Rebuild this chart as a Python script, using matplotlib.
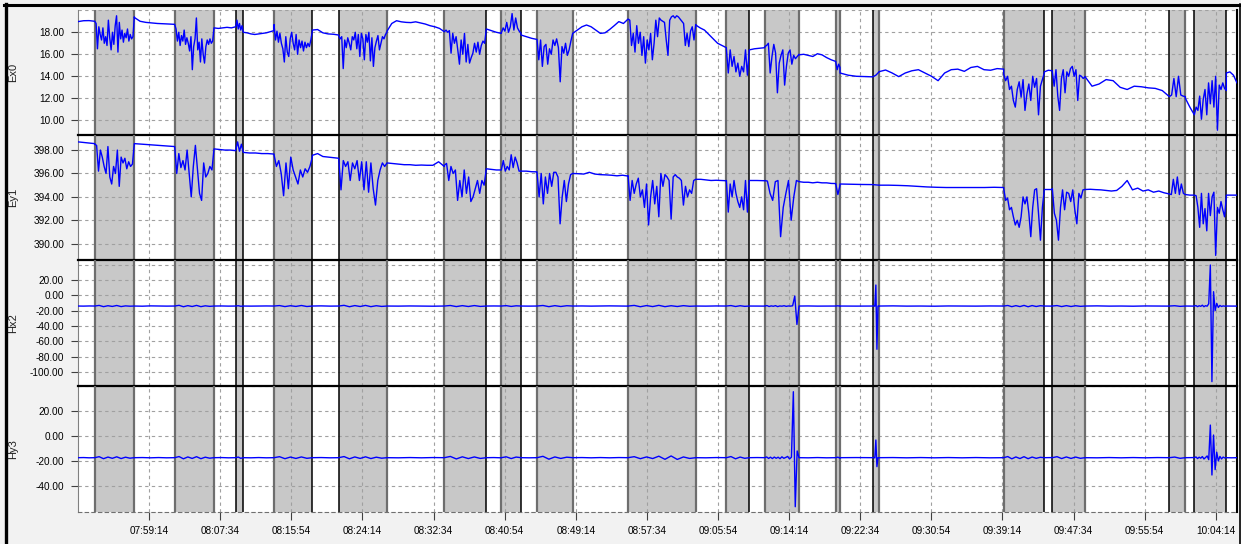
import numpy as np
import matplotlib
matplotlib.use("Agg")
import matplotlib.pyplot as plt
from matplotlib.lines import Line2D

# ── time axis (minutes after 07:00) ────────────────────────────────────────
T_START, T_END = 50.9, 186.72

BAND_START = [52.86, 62.23, 69.38, 73.87, 81.45, 93.83, 100.51, 104.69, 115.36,
              126.88, 131.38, 139.70, 144.03, 159.38, 165.08, 178.79, 181.72]
BAND_END = [57.50, 66.84, 70.27, 78.36, 87.11, 98.75, 102.82, 108.87, 123.29,
            129.57, 135.40, 140.20, 144.77, 164.14, 168.91, 180.67, 185.47]
BAND_EDGE = ["gg", "gg", "kk", "gk", "kg", "gk", "gk", "gg", "gg",
             "gk", "gg", "gg", "kg", "gk", "kg", "kg", "kk"]

TICK_LABELS = ["07:59:14", "08:07:34", "08:15:54", "08:24:14", "08:32:34",
               "08:40:54", "08:49:14", "08:57:34", "09:05:54", "09:14:14",
               "09:22:34", "09:30:54", "09:39:14", "09:47:34", "09:55:54",
               "10:04:14"]

# ── Ex0: quiet stretches between bands, and the noisy bands ────────────────
EX0_GAPS = [
    [18.97, 19.05, 19.06, 19.0],
    [19.35, 19.0, 18.9, 18.85, 18.8, 18.78, 18.75, 18.72],
    [18.4, 18.35, 18.4, 18.45, 18.4, 18.5],
    [18.0, 17.95, 17.85, 17.8, 17.85, 17.9, 17.95, 18.05, 18.15],
    [18.2, 18.25, 17.95, 17.85, 17.82, 17.75],
    [18.1, 18.8, 19.05, 18.95, 18.9, 18.88, 18.95, 18.85, 18.75, 18.6, 18.5, 18.35, 18.05],
    [18.3, 18.15, 18.0, 17.9],
    [17.75, 17.6, 17.45, 17.35],
    [17.9, 18.2, 18.5, 18.66, 18.5, 18.2, 17.9, 17.95, 18.25, 18.6, 18.97, 18.8, 19.2],
    [18.66, 18.4, 18.2, 17.8, 17.4, 17.0, 16.8, 16.6],
    [16.4, 16.5, 16.55, 16.6],
    [15.95, 16.0, 15.9, 15.8, 16.05, 15.95, 15.7, 15.5, 15.35],
    [14.3, 14.1, 14.0, 13.97, 13.95],
    [14.42, 14.57, 14.3, 13.97, 14.3, 14.5, 14.6, 14.3, 14.0, 13.6, 14.3, 14.6,
     14.65, 14.45, 14.8, 14.9, 14.6, 14.55, 14.7, 14.65],
    [14.4, 14.55, 14.5],
    [13.97, 13.1, 13.3, 13.7, 13.6, 13.0, 12.8, 13.1, 13.05, 12.95, 12.9, 12.7, 12.15],
    [12.0, 11.2, 10.5],
    [14.3, 14.4, 14.1, 13.4],
]
EX0_BANDS = [
    [19.0, 18.8, 16.5, 18.5, 17.8, 17.3, 18.4, 17.0, 17.6, 16.8, 19.1, 17.5, 16.4,
     18.0, 16.9, 18.6, 19.5, 16.2, 18.9, 17.4, 18.2, 17.1, 17.9, 17.5, 18.3, 17.2,
     17.8, 17.4, 17.6, 19.4],
    [18.7, 18.3, 17.2, 18.0, 16.8, 17.7, 17.2, 18.2, 16.9, 17.5, 17.0, 16.3, 17.6,
     14.6, 16.7, 17.4, 19.3, 16.4, 17.1, 15.3, 17.4, 16.0, 15.2, 16.7, 17.3, 16.9,
     17.4, 17.0, 17.2, 18.4],
    [18.5, 19.1, 18.3, 18.8, 18.2, 18.6, 18.0],
    [18.7, 17.3, 18.1, 17.1, 17.9, 17.0, 16.5, 15.3, 17.6, 16.2, 15.8, 17.4, 18.0,
     17.0, 16.4, 17.8, 16.0, 17.3, 16.6, 17.2, 16.3, 17.1, 16.6, 17.0, 16.7, 17.3, 18.1],
    [17.7, 17.4, 17.6, 14.7, 17.3, 16.6, 17.5, 17.0, 16.4, 17.6, 17.3, 18.0, 16.5,
     17.8, 15.8, 17.9, 17.4, 15.5, 17.8, 17.1, 18.0, 15.4, 17.5, 14.9, 16.6, 17.2,
     17.7, 16.4, 17.0, 17.6, 17.4, 17.8, 18.0],
    [18.05, 18.2, 18.0, 18.15, 16.1, 17.9, 17.0, 17.6, 16.4, 15.1, 17.3, 16.0, 17.9,
     15.3, 16.9, 15.2, 15.7, 16.1, 17.0, 16.2, 17.1, 16.0, 16.8, 17.2, 17.0, 18.3],
    [17.95, 18.4, 18.1, 18.9, 18.0, 18.5, 19.7, 18.2, 19.3, 18.4, 18.1, 17.9],
    [17.35, 15.5, 17.3, 14.9, 16.7, 16.9, 15.1, 16.5, 16.0, 17.3, 16.8, 17.4, 16.6,
     13.5, 16.7, 16.1, 17.0, 15.9, 16.4, 17.2, 17.9],
    [19.2, 19.1, 16.8, 17.9, 16.2, 18.6, 17.0, 18.0, 15.9, 17.6, 15.2, 17.3, 16.4,
     17.9, 15.5, 17.0, 19.1, 17.6, 19.3, 19.1, 19.0, 18.9, 17.3, 15.9, 19.1, 19.4,
     19.5, 19.3, 19.5, 19.4, 19.2, 19.0, 18.8, 16.8, 17.9, 16.7, 18.1, 18.5, 17.3, 18.7],
    [16.5, 14.3, 16.4, 14.9, 15.8, 14.4, 15.2, 14.0, 14.9, 14.4, 16.4, 14.1, 16.4],
    [16.7, 16.8, 17.0, 14.3, 15.8, 16.9, 16.1, 12.5, 15.2, 15.9, 16.4, 13.2, 14.9,
     16.1, 16.4, 15.1, 15.9, 15.6, 15.8, 16.0],
    [15.3, 14.6, 15.1, 14.8],
    [13.95, 14.1, 14.4],
    [14.2, 13.6, 14.0, 12.8, 13.1, 11.8, 11.2, 12.8, 13.5, 12.1, 13.7, 10.9, 12.4,
     13.3, 11.8, 14.0, 13.0, 13.8, 10.5, 13.1, 13.7, 14.3],
    [14.4, 13.1, 14.6, 12.2, 10.9, 13.8, 14.6, 12.5, 14.4, 14.0, 14.7, 14.9, 14.0,
     14.6, 11.8, 14.1, 14.0, 13.8, 13.95],
    [12.15, 12.3, 13.8, 12.15, 14.0, 12.3, 12.2, 12.15],
    [10.5, 11.2, 10.9, 12.2, 10.1, 11.9, 12.8, 10.5, 13.4, 11.5, 13.6, 11.2, 14.0,
     9.1, 13.2, 12.8, 13.4, 12.9, 12.7],
]

# ── Ey1 ────────────────────────────────────────────────────────────────────
EY1_GAPS = [
    [398.7, 398.65, 398.6, 398.55],
    [398.55, 398.5, 398.45, 398.4, 398.35, 398.3],
    [398.1, 398.05, 398.0, 398.0, 397.95],
    [397.8, 397.75, 397.75, 397.7, 397.7, 397.66],
    [397.55, 397.7, 397.45, 397.4, 397.35, 397.3],
    [396.9, 396.85, 396.8, 396.75, 396.75, 396.7, 396.72, 396.7, 396.7, 397.0, 396.6],
    [396.4, 396.35, 396.3, 396.3],
    [396.2, 396.2, 396.15, 396.14],
    [396.0, 395.98, 395.95, 396.1, 395.95, 395.9, 395.88, 395.85, 395.8, 395.85, 395.78],
    [395.5, 395.5, 395.45, 395.4, 395.42, 395.4, 395.38],
    [395.4, 395.4, 395.38],
    [395.3, 395.25, 395.25, 395.2, 395.25, 395.2, 395.2, 395.15, 395.14],
    [395.1, 395.08, 395.06, 395.05],
    [395.0, 395.0, 394.98, 394.95, 394.9, 394.85, 394.82, 394.8, 394.8, 394.8,
     394.8, 394.8, 394.82, 394.8],
    [394.63, 394.63, 394.63],
    [394.63, 394.65, 394.62, 394.6, 394.55, 394.5, 394.55, 394.9, 395.4, 394.6,
     394.75, 394.5, 394.6, 394.4, 394.5, 394.35, 394.25],
    [394.2, 394.15, 394.15],
    [394.15, 394.15, 394.15],
]
EY1_BANDS = [
    [398.5, 398.4, 396.2, 398.0, 397.4, 396.6, 396.0, 398.3, 395.7, 395.1, 396.6,
     396.0, 398.0, 394.9, 397.4, 396.9, 397.3, 396.4, 397.0, 396.6, 396.8, 398.5],
    [398.3, 396.0, 397.7, 396.5, 397.1, 396.3, 398.0, 396.0, 394.0, 396.6, 398.4,
     396.3, 394.3, 393.7, 396.9, 395.7, 396.0, 396.6, 396.3, 398.1],
    [398.0, 398.7, 397.9, 398.5, 397.8],
    [397.6, 396.6, 397.1, 396.0, 394.1, 396.9, 394.7, 397.4, 396.3, 395.7, 395.1,
     396.3, 395.7, 396.4, 396.1, 396.6, 397.4],
    [397.3, 394.6, 397.1, 396.6, 397.0, 395.4, 396.9, 396.4, 397.1, 395.4, 397.0,
     394.6, 397.0, 394.4, 396.9, 394.7, 393.3, 395.4, 396.3, 396.9, 396.6, 396.9],
    [396.7, 396.86, 395.4, 396.6, 396.0, 396.3, 393.7, 395.4, 394.0, 396.3, 394.3,
     395.7, 393.6, 394.0, 394.7, 395.4, 394.3, 395.4, 395.0, 396.4],
    [396.3, 397.1, 396.2, 396.6, 396.3, 397.6, 396.5, 397.4, 396.9, 396.2, 396.2],
    [396.1, 394.0, 396.0, 393.4, 395.7, 394.3, 396.0, 394.9, 396.1, 396.1, 395.7,
     391.7, 394.0, 395.4, 393.6, 395.1, 395.9, 396.0],
    [395.8, 393.7, 395.4, 394.3, 395.1, 395.6, 394.0, 394.6, 393.1, 395.1, 391.6,
     394.0, 395.4, 393.4, 394.9, 392.3, 396.0, 394.9, 395.9, 395.7, 395.4, 392.1,
     395.7, 395.9, 395.7, 395.6, 395.4, 393.3, 394.9, 394.0, 394.6, 394.3, 395.4, 395.5],
    [395.4, 392.7, 395.1, 394.0, 395.4, 394.3, 393.6, 393.1, 394.0, 392.9, 395.4,
     392.7, 395.4],
    [395.4, 395.35, 394.3, 393.7, 395.3, 395.4, 390.6, 393.1, 394.3, 395.4, 392.0,
     394.0, 395.4, 395.3],
    [395.1, 394.2, 395.0],
    [395.05, 395.0],
    [394.7, 393.7, 393.9, 392.9, 393.1, 392.3, 391.6, 392.0, 391.4, 392.3, 394.0,
     393.4, 394.0, 392.6, 390.6, 393.1, 394.6, 394.7, 392.6, 390.3, 393.1, 394.6],
    [394.7, 392.6, 392.0, 390.3, 393.1, 394.6, 392.9, 394.4, 394.3, 393.6, 394.6,
     392.9, 391.7, 394.3, 393.9, 394.6, 394.63],
    [394.25, 394.2, 395.5, 394.3, 395.7, 394.2, 395.1, 394.3, 394.2],
    [394.15, 394.1, 393.1, 391.4, 394.3, 391.7, 393.0, 391.1, 394.3, 392.4, 394.0,
     394.4, 389.0, 393.1, 392.6, 393.6, 392.9, 392.3, 394.0],
]

# ── Hx2 ────────────────────────────────────────────────────────────────────
HX2_GAPS = [
    [-14.0, -14.1, -13.9, -14.0],
    [-14.0, -14.2, -13.8, -14.0, -14.1, -14.0],
    [-14.0, -13.9, -14.1, -14.0],
    [-14.0, -14.1, -14.0, -13.9, -14.0],
    [-14.0, -13.8, -14.1, -14.0],
    [-14.0, -14.1, -13.9, -14.0, -14.2, -14.0],
    [-14.0, -13.9, -14.0],
    [-14.0, -14.1, -14.0],
    [-14.0, -13.9, -14.1, -14.0, -13.8, -14.0, -14.1],
    [-14.0, -14.1, -13.9, -14.0],
    [-14.0, -14.0, -14.1],
    [-14.0, -13.9, -14.1, -14.0, -14.0],
    [-14.0, -14.1, -14.0],
    [-14.0, -13.8, -14.1, -14.0, -14.2, -13.9, -14.0, -14.1, -13.9, -14.0],
    [-14.0, -14.1],
    [-14.0, -13.8, -14.1, -14.0, -14.2, -13.9, -14.0, -14.1],
    [-14.0, -14.1],
    [-14.0, -14.0, -14.1],
]
HX2_BANDS = [
    [-14.0, -13.2, -14.8, -13.6, -14.5, -13.3, -14.7, -13.8, -14.2, -14.0],
    [-14.0, -13.1, -14.9, -13.5, -14.6, -13.2, -14.8, -13.7, -14.4, -14.0],
    [-14.0, -13.6, -14.3, -14.0],
    [-14.0, -13.4, -14.7, -13.6, -14.5, -13.3, -14.6, -14.0],
    [-14.0, -13.1, -14.9, -13.4, -14.6, -13.2, -14.8, -13.6, -14.5, -14.0],
    [-14.0, -13.3, -14.7, -13.5, -14.6, -13.4, -14.5, -14.0],
    [-14.0, -13.5, -14.5, -13.7, -14.0],
    [-14.0, -13.3, -14.8, -13.5, -14.6, -13.6, -14.0],
    [-14.0, -13.2, -14.9, -13.4, -14.7, -13.1, -14.8, -13.6, -14.6, -13.5, -14.3, -14.0],
    [-14.0, -13.4, -14.6, -13.6, -14.4, -14.0],
    [-14.0, -13.4, -14.6, -13.8, -14.3, -13.5, -14.7, -13.9, -14.2, -13.6, -14.4,
     -13.9, -14.1, -13.7, -1.0, -38.0, -14.0],
    [-14.0, -13.7, -14.2],
    [-14.0, -13.8, -14.2, 13.4, -70.4, -14.0, -14.1],
    [-14.0, -13.3, -14.8, -13.5, -14.7, -13.2, -14.9, -13.4, -14.6, -13.6, -14.0],
    [-14.0, -13.4, -14.7, -13.5, -14.6, -13.6, -14.4, -14.0],
    [-14.0, -13.6, -14.4, -14.0],
    [-14.0, -13.4, -14.8, -13.6, -14.4, -12.9, -14.9, -13.5, -14.2, -11.0, 39.5,
     -112.6, 4.7, -20.0, -10.5, -15.8, -13.2, -14.6, -13.8, -14.2, -14.0],
]

# ── Hy3 ────────────────────────────────────────────────────────────────────
HY3_GAPS = [
    [-17.4, -17.3, -17.5, -17.4],
    [-17.4, -17.3, -17.5, -17.3, -17.5, -17.4],
    [-17.4, -17.3, -17.5, -17.4],
    [-17.4, -17.5, -17.3, -17.5, -17.4],
    [-17.4, -17.3, -17.5, -17.4],
    [-17.4, -17.5, -17.3, -17.5, -17.3, -17.4],
    [-17.4, -17.3, -17.5],
    [-17.4, -17.5, -17.4],
    [-17.4, -17.3, -17.5, -17.3, -17.5, -17.3, -17.4],
    [-17.4, -17.5, -17.3, -17.4],
    [-17.4, -17.3, -17.4],
    [-17.4, -17.5, -17.3, -17.5, -17.4],
    [-17.4, -17.3, -17.4],
    [-17.4, -17.3, -17.5, -17.3, -17.5, -17.3, -17.5, -17.3, -17.5, -17.4],
    [-17.4, -17.3],
    [-17.4, -17.5, -17.3, -17.5, -17.3, -17.5, -17.3, -17.4],
    [-17.4, -17.3],
    [-17.4, -17.5, -17.4],
]
HY3_BANDS = [
    [-17.4, -16.6, -18.2, -16.9, -17.9, -16.7, -18.1, -17.0, -17.8, -17.4],
    [-17.4, -16.5, -18.3, -16.8, -18.0, -16.6, -18.2, -17.0, -17.8, -17.4],
    [-17.4, -16.9, -17.9, -17.4],
    [-17.4, -16.6, -18.2, -16.9, -18.0, -16.8, -17.9, -17.4],
    [-17.4, -16.5, -18.3, -16.8, -18.0, -16.7, -18.1, -17.0, -17.8, -17.4],
    [-17.4, -16.4, -18.4, -16.7, -18.1, -16.8, -18.0, -17.4],
    [-17.4, -16.7, -18.1, -16.9, -17.4],
    [-17.4, -16.3, -18.6, -16.8, -18.0, -17.0, -17.4],
    [-17.4, -16.6, -18.2, -16.8, -18.1, -16.2, -18.7, -16.0, -18.8, -16.8, -18.0, -17.4],
    [-17.4, -16.5, -18.3, -16.9, -17.9, -17.4],
    [-17.4, -16.8, -18.0, -17.0, -18.1, -16.9, -17.9, -17.0, -18.2, -16.7, -17.9,
     -17.2, -16.4, -18.4, -17.0, 35.6, -56.8, -12.0, -17.4],
    [-17.4, -17.0, -17.8],
    [-17.4, -17.2, -17.6, -3.2, -24.6, -17.4, -17.5],
    [-17.4, -16.5, -18.3, -16.8, -18.1, -16.6, -18.2, -16.9, -17.9, -17.1, -17.4],
    [-17.4, -16.6, -18.1, -16.8, -18.0, -16.9, -17.9, -17.4],
    [-17.4, -16.9, -17.9, -17.4],
    [-17.4, -16.8, -18.1, -17.0, -17.8, -16.5, -18.4, -17.3, -16.0, -19.0, 8.8,
     -31.3, 0.8, -27.0, -13.0, -20.0, -16.4, -18.4, -16.9, -17.6, -17.4],
]

# ── style ──────────────────────────────────────────────────────────────────
C_LINE = "#0000FF"
C_BAND = "#C8C8C8"
C_GRID = "#A0A0A0"
C_BG = "#F2F2F2"
EDGE_STYLE = {"g": ("#6E6E6E", 1.6), "k": ("#000000", 1.1)}
plt.rcParams["font.family"] = ["Liberation Sans", "DejaVu Sans"]

W, H = 1241, 544


def build_series(gaps, bands):
    ts, vs = [], []
    for i, g in enumerate(gaps):
        t0 = T_START if i == 0 else BAND_END[i - 1]
        t1 = T_END if i == len(gaps) - 1 else BAND_START[i]
        ts.append(np.linspace(t0, t1, len(g)))
        vs.append(np.asarray(g, dtype=float))
        if i < len(bands):
            b = bands[i]
            ts.append(np.linspace(BAND_START[i], BAND_END[i], len(b)))
            vs.append(np.asarray(b, dtype=float))
    return np.concatenate(ts), np.concatenate(vs)


def to_minutes(label):
    h, m, s = (int(p) for p in label.split(":"))
    return (h - 7) * 60 + m + s / 60


PANELS = [
    # name, gaps, bands, (top px, bottom px), ylim, yticks, extra grid
    ("Ex0", EX0_GAPS, EX0_BANDS, (9.5, 134.5), (8.71, 20.07), [10, 12, 14, 16, 18], [20]),
    ("Ey1", EY1_GAPS, EY1_BANDS, (134.5, 259.5), (388.65, 399.33), [390, 392, 394, 396, 398], []),
    ("Hx2", HX2_GAPS, HX2_BANDS, (259.5, 386.0), (-118.3, 46.7), [-100, -80, -60, -40, -20, 0, 20], [40]),
    ("Hy3", HY3_GAPS, HY3_BANDS, (386.0, 511.7), (-60.8, 40.2), [-40, -20, 0, 20], [40]),
]

fig = plt.figure(figsize=(W / 100, H / 100), dpi=100, facecolor=C_BG)
xticks = [to_minutes(l) for l in TICK_LABELS]
left, right = 78, 1237

for k, (name, gaps, bands, (ytop, ybot), ylim, yticks, extra) in enumerate(PANELS):
    ax = fig.add_axes([left / W, (H - ybot) / H, (right - left) / W, (ybot - ytop) / H])
    ax.set_facecolor("white")
    last = k == len(PANELS) - 1

    for i, (b0, b1) in enumerate(zip(BAND_START, BAND_END)):
        ax.axvspan(b0, b1, color=C_BAND, lw=0, zorder=0)
        for t, c in zip((b0, b1), BAND_EDGE[i]):
            col, lw = EDGE_STYLE[c]
            ax.axvline(t, color=col, lw=lw, zorder=3)

    t, v = build_series(gaps, bands)
    ax.plot(t, v, color=C_LINE, lw=1.0, zorder=4)

    ax.set_xlim(T_START, T_END)
    ax.set_ylim(*ylim)
    ax.set_yticks(yticks)
    ax.set_yticklabels([f"{y:.2f}" for y in yticks])
    ax.set_xticks(xticks)
    ax.grid(True, ls=(0, (3, 3)), color=C_GRID, lw=0.8, zorder=1)
    for y in extra:
        ax.axhline(y, ls=(0, (3, 3)), color=C_GRID, lw=0.8, zorder=1)

    ax.tick_params(axis="y", direction="out", length=5, width=0.8, pad=5,
                   labelsize=7.2, color="#404040")
    if last:
        ax.set_xticklabels(TICK_LABELS)
        ax.tick_params(axis="x", direction="out", length=6, width=0.8, pad=4,
                       labelsize=7.2, color="#404040")
    else:
        ax.tick_params(axis="x", length=0, labelbottom=False)

    ax.spines["left"].set_color("#808080")
    ax.spines["right"].set_color("black")
    ax.spines["right"].set_linewidth(1.5)
    if k == 0:
        ax.spines["top"].set_visible(False)
    else:
        ax.spines["top"].set_color("black")
        ax.spines["top"].set_linewidth(1.6)
    if last:
        ax.spines["bottom"].set_linestyle((0, (3, 3)))
        ax.spines["bottom"].set_color("#707070")
    else:
        ax.spines["bottom"].set_visible(False)

    fig.text(13 / W, 1 - (ytop + ybot) / 2 / H, name, rotation=90,
             ha="center", va="center", fontsize=8, color="#202020")

# outer window frame
fig.add_artist(Line2D([4 / W, 1240 / W], [1 - 5 / H, 1 - 5 / H], color="black", lw=2.2))
fig.add_artist(Line2D([5.5 / W, 5.5 / W], [0, 1 - 4 / H], color="black", lw=2.4))
fig.add_artist(Line2D([1239.5 / W, 1239.5 / W], [0, 1 - 4 / H], color="black", lw=1.2))

fig.savefig("out.png", dpi=100, facecolor=C_BG)
